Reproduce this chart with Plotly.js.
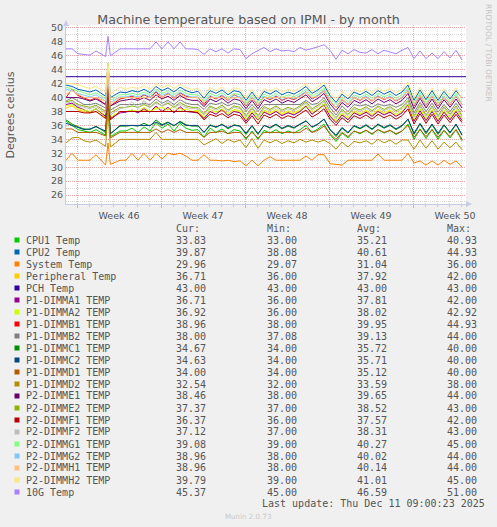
<!DOCTYPE html>
<html>
<head>
<meta charset="utf-8">
<script src="https://cdn.plot.ly/plotly-3.0.1.min.js"></script>
<style>
  html, body { margin: 0; padding: 0; background: #f0f0f0; }
  #chart { width: 497px; height: 527px; }
</style>
</head>
<body>
<div id="chart"></div>
<script>
/* Munin "by month" IPMI temperature graph, redrawn with Plotly.
 * x is in days from the left edge of the plot (33 days shown), about one sample per
 * half day, sampled tighter around the short spike on day 3.5. */

const DAYS = [
  0, 0.5, 1, 1.5, 2, 2.5, 3.3, 3.5, 3.7, 4.5,
  5, 5.5, 6, 6.5, 7, 7.5, 8, 8.5, 9, 9.5,
  10, 10.5, 11, 11.5, 12, 12.5, 13, 13.5, 14, 14.5,
  15, 15.5, 16, 16.5, 17, 17.5, 18, 18.5, 19, 19.5,
  20, 20.5, 21, 21.5, 22, 22.5, 23, 23.5, 24, 24.5,
  25, 25.5, 26, 26.5, 27, 27.5, 28, 28.5, 29, 29.5,
  30, 30.5, 31, 31.5, 32, 32.5, 33,
];
const PCH_DAYS = [0, 33.33];

// week boundaries (Mondays) and their labels
const MONDAYS = [0.92, 7.92, 14.92, 21.92, 28.92];
const WEEK_LABELS = ["Week 46", "Week 47", "Week 48", "Week 49", "Week 50"];

const CPU1 = [
  36.6, 36.0, 35.4, 35.2, 35.0, 35.4, 34.6, 40.9, 34.4, 35.2,
  35.2, 35.6, 35.0, 35.8, 35.2, 36.4, 35.6, 36.2, 35.2, 36.3,
  35.6, 35.3, 35.4, 34.3, 35.6, 35.0, 35.5, 34.8, 35.4, 35.2,
  34.0, 35.2, 34.0, 35.3, 34.9, 35.4, 34.8, 35.2, 34.9, 35.4,
  36.0, 35.0, 35.5, 36.2, 34.7, 33.7, 34.9, 34.2, 35.2, 34.8,
  35.3, 34.7, 35.4, 34.9, 35.3, 34.7, 35.2, 36.2, 34.0, 35.5,
  34.1, 35.4, 34.0, 35.3, 34.2, 35.4, 33.8,
];
const CPU2 = [
  41.8, 41.6, 41.2, 41.0, 40.8, 41.1, 40.2, 44.9, 40.0, 40.8,
  40.7, 41.0, 40.8, 41.2, 40.7, 41.6, 41.0, 41.4, 40.8, 41.5,
  41.0, 40.7, 40.9, 39.9, 41.0, 40.6, 41.1, 40.4, 41.0, 40.8,
  39.6, 40.8, 39.6, 40.9, 40.5, 41.0, 40.4, 40.8, 40.5, 41.0,
  41.6, 40.6, 41.1, 41.8, 40.3, 39.3, 40.5, 39.8, 40.8, 40.4,
  40.9, 40.3, 41.0, 40.5, 40.9, 40.3, 40.8, 41.8, 39.6, 41.1,
  39.7, 41.0, 39.6, 40.9, 39.8, 41.0, 39.9,
];
const SYSTEM = [
  31.0, 32.0, 31.0, 31.0, 31.0, 31.8, 30.3, 33.5, 30.4, 31.0,
  31.0, 32.0, 31.0, 32.0, 31.0, 32.0, 31.2, 32.0, 31.8, 32.0,
  31.6, 31.0, 31.0, 31.8, 31.0, 31.0, 30.9, 31.0, 30.8, 30.9,
  30.2, 31.0, 30.2, 31.0, 31.5, 31.0, 31.0, 31.0, 31.0, 31.0,
  31.6, 31.0, 31.8, 31.8, 30.5, 30.4, 30.3, 31.0, 31.0, 31.0,
  31.0, 31.0, 31.9, 31.0, 31.0, 31.0, 31.0, 32.0, 30.6, 30.9,
  30.3, 30.9, 30.3, 31.0, 30.4, 30.9, 30.0,
];
const PERIPHERAL = [
  38.5, 38.8, 38.2, 38.0, 37.8, 38.0, 37.2, 42.0, 36.9, 38.0,
  38.0, 38.0, 38.0, 38.2, 38.0, 38.6, 38.0, 38.4, 38.0, 38.5,
  38.0, 38.0, 38.0, 37.0, 38.0, 37.7, 38.2, 37.5, 38.1, 37.9,
  36.7, 37.9, 36.7, 38.0, 37.6, 38.1, 37.5, 37.9, 37.6, 38.1,
  38.7, 37.7, 38.2, 38.9, 37.4, 36.4, 37.6, 36.9, 37.9, 37.5,
  38.0, 37.4, 38.1, 37.6, 38.0, 37.4, 37.9, 38.9, 36.7, 38.2,
  36.8, 38.1, 36.7, 38.0, 36.9, 38.1, 36.7,
];
const PCH = [43.0, 43.0];
const P1_DIMMA1 = [
  39.0, 39.2, 38.6, 38.2, 37.9, 38.4, 37.3, 41.5, 37.0, 37.8,
  37.9, 38.2, 37.8, 38.4, 37.9, 38.8, 38.0, 38.6, 37.8, 38.7,
  38.0, 37.9, 37.8, 37.0, 38.0, 37.6, 38.3, 37.4, 38.0, 37.8,
  36.6, 37.8, 36.8, 37.9, 37.5, 38.0, 37.4, 37.8, 37.5, 38.0,
  38.8, 37.6, 38.3, 39.0, 37.3, 36.4, 37.5, 36.8, 37.8, 37.4,
  37.9, 37.3, 38.0, 37.5, 37.9, 37.3, 37.8, 39.0, 36.6, 38.1,
  36.7, 38.0, 36.6, 37.9, 36.8, 38.0, 36.7,
];
const P1_DIMMA2 = [
  38.8, 39.0, 38.4, 38.2, 38.0, 38.4, 37.5, 42.9, 37.2, 38.0,
  38.0, 38.2, 38.0, 38.6, 38.0, 38.4, 38.6, 38.2, 38.8, 38.0,
  38.4, 38.0, 38.2, 37.2, 38.3, 37.9, 38.4, 37.7, 38.3, 38.1,
  36.9, 38.1, 36.9, 38.2, 37.8, 38.3, 37.7, 38.1, 37.8, 38.3,
  38.9, 37.9, 38.4, 39.1, 37.6, 36.6, 37.8, 37.1, 38.1, 37.7,
  38.2, 37.6, 38.3, 37.8, 38.2, 37.6, 38.1, 39.1, 36.9, 38.4,
  37.0, 38.3, 36.9, 38.2, 37.1, 38.3, 36.9,
];
const P1_DIMMB1 = [
  40.0, 41.2, 40.3, 40.0, 39.6, 40.0, 39.0, 44.9, 38.8, 39.8,
  40.0, 40.2, 39.8, 40.4, 40.0, 40.8, 40.0, 40.6, 39.9, 40.7,
  40.2, 40.0, 40.0, 39.0, 40.2, 39.8, 40.3, 39.6, 40.4, 40.0,
  38.8, 40.0, 38.8, 40.1, 39.7, 40.2, 39.6, 40.0, 39.7, 40.2,
  40.8, 39.8, 40.3, 41.0, 39.5, 38.5, 39.7, 39.0, 40.0, 39.6,
  40.1, 39.5, 40.2, 39.7, 40.1, 39.5, 40.0, 41.0, 38.8, 40.3,
  38.9, 40.2, 38.8, 40.1, 39.0, 40.2, 39.0,
];
const P1_DIMMB2 = [
  39.5, 40.0, 39.5, 39.0, 39.0, 39.2, 38.5, 44.0, 38.2, 39.0,
  39.0, 39.0, 39.0, 39.2, 39.0, 39.8, 39.2, 39.6, 39.0, 39.7,
  39.2, 39.0, 39.0, 38.3, 39.2, 39.0, 39.3, 38.8, 39.2, 39.0,
  38.0, 39.0, 38.0, 39.0, 39.0, 39.0, 39.0, 39.0, 39.0, 39.0,
  39.6, 39.0, 39.2, 40.0, 38.6, 37.5, 38.8, 38.0, 39.0, 38.8,
  39.0, 38.6, 39.1, 38.8, 39.0, 38.6, 39.0, 40.0, 37.8, 39.3,
  38.0, 39.2, 37.9, 39.0, 38.0, 39.2, 38.0,
];
const P1_DIMMC1 = [
  36.8, 36.2, 35.8, 35.5, 35.4, 35.9, 35.0, 40.0, 34.8, 35.9,
  35.9, 36.0, 35.9, 36.3, 35.9, 36.8, 36.1, 36.5, 35.9, 36.6,
  36.1, 35.9, 35.9, 35.0, 36.1, 35.7, 36.2, 35.5, 36.1, 35.9,
  34.7, 35.9, 34.7, 36.0, 35.6, 36.1, 35.5, 35.9, 35.6, 36.1,
  36.7, 35.7, 36.2, 36.9, 35.4, 34.4, 35.6, 34.9, 35.9, 35.5,
  36.0, 35.4, 36.1, 35.6, 36.0, 35.4, 35.9, 36.9, 34.7, 36.2,
  34.8, 36.1, 34.7, 36.0, 34.9, 36.1, 34.7,
];
const P1_DIMMC2 = [
  36.3, 36.0, 35.6, 35.4, 35.5, 35.8, 35.2, 40.0, 34.8, 36.0,
  36.0, 36.0, 36.0, 36.0, 36.0, 36.5, 36.0, 36.4, 36.0, 36.5,
  36.0, 36.0, 36.0, 35.0, 36.0, 35.8, 36.1, 35.7, 36.0, 35.9,
  34.9, 36.0, 34.8, 36.0, 35.7, 36.2, 35.6, 36.0, 35.7, 36.2,
  36.6, 35.8, 36.2, 36.9, 35.4, 34.6, 35.7, 35.0, 36.0, 35.6,
  36.1, 35.5, 36.2, 35.7, 36.1, 35.5, 36.0, 36.9, 34.9, 36.3,
  35.0, 36.2, 34.9, 36.1, 35.0, 36.2, 34.6,
];
const P1_DIMMD1 = [
  35.5, 35.5, 35.0, 35.0, 35.0, 35.0, 34.5, 40.0, 34.2, 35.0,
  35.0, 35.0, 35.0, 35.0, 35.0, 35.5, 35.0, 35.4, 35.0, 35.4,
  35.0, 35.0, 35.0, 34.3, 35.0, 35.0, 35.2, 34.8, 35.0, 35.0,
  34.2, 35.0, 34.2, 35.0, 35.0, 35.0, 35.0, 35.0, 35.0, 35.0,
  35.6, 35.0, 35.3, 35.9, 34.8, 34.0, 35.0, 34.4, 35.2, 34.9,
  35.3, 34.8, 35.4, 35.0, 35.3, 34.8, 35.2, 36.0, 34.3, 35.4,
  34.4, 35.4, 34.3, 35.3, 34.4, 35.4, 34.0,
];
const P1_DIMMD2 = [
  33.5, 34.2, 34.3, 33.8, 33.6, 33.9, 33.0, 38.0, 32.9, 34.0,
  34.0, 34.0, 34.0, 34.0, 34.0, 35.0, 34.0, 34.0, 34.0, 34.0,
  34.1, 34.0, 34.0, 33.2, 33.7, 34.1, 33.4, 34.0, 33.6, 33.9,
  32.8, 34.1, 32.7, 33.9, 33.5, 33.9, 33.4, 33.8, 33.5, 34.0,
  33.6, 33.9, 33.6, 33.9, 33.4, 32.6, 33.6, 32.9, 33.7, 33.5,
  33.8, 33.3, 34.0, 33.5, 33.9, 33.3, 33.9, 33.9, 32.6, 33.9,
  32.7, 33.8, 32.6, 33.6, 32.8, 33.6, 32.5,
];
const P2_DIMME1 = [
  40.0, 40.0, 40.0, 39.8, 39.5, 39.8, 39.0, 44.0, 38.8, 39.5,
  39.6, 39.8, 39.6, 40.0, 39.6, 40.4, 39.8, 40.2, 39.6, 40.3,
  39.8, 39.6, 39.6, 38.7, 39.8, 39.4, 39.9, 39.2, 39.8, 39.6,
  38.4, 39.6, 38.4, 39.7, 39.3, 39.8, 39.2, 39.6, 39.3, 39.8,
  40.4, 39.4, 39.9, 40.6, 39.1, 38.1, 39.3, 38.6, 39.6, 39.2,
  39.7, 39.1, 39.8, 39.3, 39.7, 39.1, 39.6, 40.6, 38.4, 39.9,
  38.5, 39.8, 38.4, 39.7, 38.6, 39.8, 38.5,
];
const P2_DIMME2 = [
  39.4, 39.6, 39.0, 38.8, 38.6, 38.9, 38.0, 43.0, 37.8, 38.6,
  38.6, 38.8, 38.6, 39.0, 38.6, 39.4, 38.8, 39.2, 38.6, 39.3,
  38.8, 38.6, 38.6, 37.7, 38.8, 38.4, 38.9, 38.2, 38.8, 38.6,
  37.4, 38.6, 37.4, 38.7, 38.3, 38.8, 38.2, 38.6, 38.3, 38.8,
  39.4, 38.4, 38.9, 39.6, 38.1, 37.1, 38.3, 37.6, 38.6, 38.2,
  38.7, 38.1, 38.8, 38.3, 38.7, 38.1, 38.6, 39.6, 37.4, 38.9,
  37.5, 38.8, 37.4, 38.7, 37.6, 38.8, 37.4,
];
const P2_DIMMF1 = [
  38.0, 38.0, 38.0, 37.8, 37.8, 38.0, 37.0, 42.0, 36.8, 38.0,
  38.0, 38.0, 38.0, 38.0, 38.0, 38.0, 38.0, 38.0, 38.0, 38.0,
  38.0, 38.0, 37.8, 36.8, 37.6, 37.3, 37.7, 37.1, 37.6, 37.4,
  36.3, 37.4, 36.2, 37.5, 37.1, 37.6, 37.0, 37.4, 37.1, 37.6,
  38.2, 37.2, 37.7, 38.4, 36.9, 36.0, 37.1, 36.4, 37.4, 37.0,
  37.5, 36.9, 37.6, 37.1, 37.5, 36.9, 37.4, 38.4, 36.2, 37.7,
  36.3, 37.6, 36.2, 37.5, 36.4, 37.6, 36.4,
];
const P2_DIMMF2 = [
  39.2, 39.4, 38.8, 38.6, 38.4, 38.7, 37.8, 43.0, 37.5, 38.4,
  38.6, 39.4, 38.4, 39.6, 38.6, 39.2, 38.8, 39.4, 38.6, 39.0,
  38.6, 38.4, 38.4, 37.5, 38.6, 38.2, 38.7, 38.0, 38.6, 38.4,
  37.2, 38.4, 37.2, 38.5, 38.1, 38.6, 38.0, 38.4, 38.1, 38.6,
  39.2, 38.2, 38.7, 39.4, 37.9, 37.0, 38.1, 37.4, 38.4, 38.0,
  38.5, 37.9, 38.6, 38.1, 38.5, 37.9, 38.4, 39.4, 37.2, 38.7,
  37.3, 38.6, 37.2, 38.5, 37.4, 38.6, 37.1,
];
const P2_DIMMG1 = [
  41.5, 41.2, 41.0, 40.6, 40.4, 40.7, 39.8, 45.0, 39.6, 40.4,
  40.4, 40.6, 40.4, 40.8, 40.4, 41.2, 40.6, 41.0, 40.4, 41.1,
  40.6, 40.4, 40.4, 39.5, 40.6, 40.2, 40.7, 40.0, 40.6, 40.4,
  39.2, 40.4, 39.2, 40.5, 40.1, 40.6, 40.0, 40.4, 40.1, 40.6,
  41.2, 40.2, 40.7, 41.4, 39.9, 39.0, 40.1, 39.4, 40.4, 40.0,
  40.5, 39.9, 40.6, 40.1, 40.5, 39.9, 40.4, 41.4, 39.2, 40.7,
  39.3, 40.6, 39.2, 40.5, 39.4, 40.6, 39.1,
];
const P2_DIMMG2 = [
  41.2, 41.0, 40.6, 40.3, 40.1, 40.4, 39.5, 44.0, 39.3, 40.1,
  40.1, 40.3, 40.1, 40.5, 40.1, 40.9, 40.3, 40.7, 40.1, 40.8,
  40.3, 40.1, 40.1, 39.2, 40.3, 39.9, 40.4, 39.7, 40.3, 40.1,
  38.9, 40.1, 38.9, 40.2, 39.8, 40.3, 39.7, 40.1, 39.8, 40.3,
  40.9, 39.9, 40.4, 41.1, 39.6, 38.6, 39.8, 39.1, 40.1, 39.7,
  40.2, 39.6, 40.3, 39.8, 40.2, 39.6, 40.1, 41.1, 38.9, 40.4,
  39.0, 40.3, 38.9, 40.2, 39.1, 40.3, 39.0,
];
const P2_DIMMH1 = [
  40.5, 41.0, 40.5, 40.0, 40.0, 40.0, 39.5, 44.0, 39.0, 40.0,
  40.0, 40.0, 40.0, 40.0, 40.0, 40.5, 40.0, 40.5, 40.0, 40.5,
  40.0, 40.0, 40.0, 39.3, 40.0, 40.0, 40.0, 39.8, 40.0, 40.0,
  39.0, 40.0, 39.0, 40.0, 40.0, 40.0, 40.0, 40.0, 40.0, 40.0,
  40.8, 40.0, 40.2, 41.0, 39.6, 38.5, 39.8, 39.0, 40.0, 39.7,
  40.0, 39.6, 40.1, 39.8, 40.0, 39.6, 40.0, 41.0, 39.0, 40.3,
  39.0, 40.2, 39.0, 40.1, 39.1, 40.2, 39.0,
];
const P2_DIMMH2 = [
  42.0, 42.0, 41.8, 41.5, 41.3, 41.6, 40.8, 45.0, 40.5, 41.5,
  41.2, 41.5, 41.3, 41.7, 41.2, 42.0, 41.4, 41.8, 41.3, 41.9,
  41.4, 41.2, 41.3, 40.4, 41.4, 41.0, 41.5, 40.8, 41.4, 41.2,
  40.0, 41.2, 40.0, 41.3, 40.9, 41.4, 40.8, 41.2, 40.9, 41.4,
  42.0, 41.0, 41.5, 42.2, 40.7, 39.7, 40.9, 40.2, 41.2, 40.8,
  41.3, 40.7, 41.4, 40.9, 41.3, 40.7, 41.2, 42.2, 40.0, 41.5,
  40.1, 41.4, 40.0, 41.3, 40.2, 41.4, 39.8,
];
const TEMP_10G = [
  47.0, 47.0, 46.3, 46.2, 46.1, 46.7, 45.9, 48.8, 46.0, 47.0,
  47.0, 47.0, 47.0, 47.0, 47.0, 48.0, 47.0, 48.0, 47.0, 48.0,
  47.0, 47.0, 46.9, 46.2, 47.0, 46.6, 47.0, 46.4, 47.0, 46.9,
  45.6, 46.3, 46.8, 47.2, 46.6, 47.0, 46.7, 46.8, 46.6, 47.2,
  46.8, 47.0, 47.3, 47.6, 46.8, 45.5, 46.8, 46.3, 46.9, 46.5,
  46.4, 46.9, 46.3, 46.8, 46.6, 46.3, 46.8, 47.2, 45.6, 46.7,
  45.6, 46.4, 45.6, 46.6, 45.7, 46.8, 45.4,
];

// legend table: names, colours and the Cur/Min/Avg/Max columns
const NAMES = [
  "CPU1 Temp", "CPU2 Temp", "System Temp", "Peripheral Temp", "PCH Temp",
  "P1-DIMMA1 TEMP", "P1-DIMMA2 TEMP", "P1-DIMMB1 TEMP", "P1-DIMMB2 TEMP",
  "P1-DIMMC1 TEMP", "P1-DIMMC2 TEMP", "P1-DIMMD1 TEMP", "P1-DIMMD2 TEMP",
  "P2-DIMME1 TEMP", "P2-DIMME2 TEMP", "P2-DIMMF1 TEMP", "P2-DIMMF2 TEMP",
  "P2-DIMMG1 TEMP", "P2-DIMMG2 TEMP", "P2-DIMMH1 TEMP", "P2-DIMMH2 TEMP",
  "10G Temp",
];
const COLORS = [
  "#00CC00", "#0066B3", "#FF8000", "#FFCC00", "#330099",
  "#990099", "#CCFF00", "#FF0000", "#808080",
  "#008F00", "#00487D", "#B35A00", "#B38F00",
  "#6B006B", "#8FB300", "#B30000", "#BEBEBE",
  "#80FF80", "#80C9FF", "#FFC080", "#FFE680",
  "#AA80FF",
];
const CUR = [33.83, 39.87, 29.96, 36.71, 43.00, 36.71, 36.92, 38.96, 38.00, 34.67, 34.63,
  34.00, 32.54, 38.46, 37.37, 36.37, 37.12, 39.08, 38.96, 38.96, 39.79, 45.37];
const MIN = [33.00, 38.08, 29.07, 36.00, 43.00, 36.00, 36.00, 38.00, 37.08, 34.00, 34.00,
  34.00, 32.00, 38.00, 37.00, 36.00, 37.00, 39.00, 38.00, 38.00, 39.00, 45.00];
const AVG = [35.21, 40.61, 31.04, 37.92, 43.00, 37.81, 38.02, 39.95, 39.13, 35.72, 35.71,
  35.12, 33.59, 39.65, 38.52, 37.57, 38.31, 40.27, 40.02, 40.14, 41.01, 46.59];
const MAX = [40.93, 44.93, 36.00, 42.00, 43.00, 42.00, 42.92, 44.93, 44.00, 40.00, 40.00,
  40.00, 38.00, 44.00, 43.00, 42.00, 43.00, 45.00, 44.00, 44.00, 45.00, 51.00];

const SERIES = [CPU1, CPU2, SYSTEM, PERIPHERAL, PCH, P1_DIMMA1, P1_DIMMA2, P1_DIMMB1,
  P1_DIMMB2, P1_DIMMC1, P1_DIMMC2, P1_DIMMD1, P1_DIMMD2, P2_DIMME1, P2_DIMME2,
  P2_DIMMF1, P2_DIMMF2, P2_DIMMG1, P2_DIMMG2, P2_DIMMH1, P2_DIMMH2, TEMP_10G];

/* ---------- page geometry (pixels) ---------- */
const PL = 66, PR = 466, PT = 25, PB = 204;
const px = (x) => (x - PL) / (PR - PL);
const py = (y) => (PB - y) / (PB - PT);

const INK = "#555555";
const SANS = "DejaVu Sans, sans-serif";
const MONO = "DejaVu Sans Mono, monospace";
const MGRID = "#e8a6a6";
const GRID = "#d9d9d9";
const AXIS = "#c8cce6";

const traces = SERIES.map((ys, i) => ({
  x: ys === PCH ? PCH_DAYS : DAYS,
  y: ys,
  name: NAMES[i],
  type: "scatter",
  mode: "lines",
  line: { width: 1, color: COLORS[i] },
  hoverinfo: "skip",
  showlegend: false,
}));

function label(x, y, text, opts = {}) {
  return {
    xref: "paper", yref: "paper", x: px(x), y: py(y), text,
    showarrow: false, xanchor: opts.anchor || "left", yanchor: "middle",
    borderpad: 0, borderwidth: 0, textangle: opts.angle || 0,
    font: { family: opts.family || MONO, size: opts.size || 10, color: opts.color || INK },
  };
}

const COLS = [176, 267, 357, 447];
const annotations = [];
const shapes = [];
["Cur:", "Min:", "Avg:", "Max:"].forEach((h, j) => annotations.push(label(COLS[j], 228, h)));
NAMES.forEach((name, i) => {
  const y = 240 + 12 * i;
  shapes.push({
    type: "rect", xref: "paper", yref: "paper",
    x0: px(14.5), x1: px(19.5), y0: py(y + 2.5), y1: py(y - 2.5),
    fillcolor: COLORS[i], line: { width: 0 },
  });
  annotations.push(label(26, y, name));
  [CUR, MIN, AVG, MAX].forEach((col, j) => annotations.push(label(COLS[j], y, col[i].toFixed(2))));
});
annotations.push(label(262, 504, "Last update: Thu Dec 11 09:00:23 2025"));
annotations.push(label(247.5, 516, "Munin 2.0.73", { anchor: "center", family: SANS, size: 7.1, color: "#c8c8c8" }));
annotations.push(label(10, 114.5, "Degrees celcius", { anchor: "center", family: SANS, size: 11, angle: -90 }));
annotations.push(label(488, 53, "RRDTOOL / TOBI OETIKER", { anchor: "center", family: SANS, size: 7.6, color: "#c4c4c4", angle: 90 }));

// little axis arrows, as rrdtool draws them
const tri = (pts) => "M" + pts.map(([x, y]) => `${px(x)},${py(y)}`).join("L") + "Z";
shapes.push({ type: "path", xref: "paper", yref: "paper", path: tri([[63, 26], [69, 26], [66, 20]]), fillcolor: AXIS, line: { width: 0 } });
shapes.push({ type: "path", xref: "paper", yref: "paper", path: tri([[466, 201], [466, 207], [472, 204]]), fillcolor: AXIS, line: { width: 0 } });

const layout = {
  width: 497, height: 527,
  paper_bgcolor: "#f0f0f0",
  plot_bgcolor: "#ffffff",
  margin: { l: PL, r: 497 - PR, t: PT, b: 527 - PB, pad: 0 },
  title: {
    text: "Machine temperature based on IPMI - by month",
    x: 0.5, xref: "container", xanchor: "center",
    y: 1 - 19.3 / 527, yref: "container", yanchor: "middle",
    font: { family: SANS, size: 12.7, color: INK },
  },
  showlegend: false,
  hovermode: false,
  xaxis: {
    range: [0, 33.33], fixedrange: true, zeroline: false,
    tickmode: "array", tickvals: MONDAYS, ticktext: WEEK_LABELS, ticklabelshift: 42,
    ticks: "outside", ticklen: 3, tickwidth: 1, tickcolor: MGRID,
    tickfont: { family: SANS, size: 9.5, color: INK },
    showgrid: true, gridcolor: MGRID, gridwidth: 1, griddash: "1px,1px",
    showline: true, linecolor: AXIS, linewidth: 1,
    minor: {
      tickmode: "linear", tick0: 0.92, dtick: 1,
      showgrid: true, gridcolor: GRID, griddash: "1px,1px",
      ticks: "outside", ticklen: 2, tickcolor: "#c8c8c8",
    },
  },
  yaxis: {
    range: [24.71, 50.43], fixedrange: true, zeroline: false,
    tickmode: "linear", tick0: 26, dtick: 2,
    ticks: "", tickfont: { family: SANS, size: 9.5, color: INK },
    showgrid: true, gridcolor: MGRID, gridwidth: 1, griddash: "1px,1px",
    showline: true, linecolor: AXIS, linewidth: 1,
    minor: { tickmode: "linear", tick0: 25, dtick: 1, showgrid: true, gridcolor: GRID, griddash: "1px,1px" },
  },
  annotations,
  shapes,
};

Plotly.newPlot("chart", traces, layout, { displayModeBar: false, staticPlot: true });
</script>
</body>
</html>
